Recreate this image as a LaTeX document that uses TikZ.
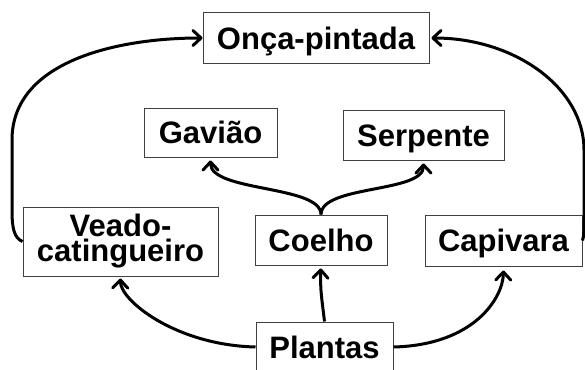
\documentclass[tikz,border=0pt]{standalone}
\usepackage{fontspec}
\setmainfont{Liberation Sans}
\usetikzlibrary{arrows.meta}
\begin{document}
\begin{tikzpicture}[x=1pt,y=-1pt,
  box/.style={draw=black!75, line width=1pt, inner sep=0pt, align=center,
    font=\fontsize{31}{25}\selectfont\bfseries},
  oneline/.style={text height=22.5pt, text depth=0pt},
  link/.style={line width=3pt, line join=round,
    -{Straight Barb[length=8pt,width=15pt,round]}}]
\useasboundingbox (0,0) rectangle (585,369);
\fill[white] (0,0) rectangle (585,369);
\node[box, oneline, minimum width=226pt, minimum height=50pt] (onca) at (316,38) {Onça-pintada};
\node[box, oneline, minimum width=133pt, minimum height=49pt] (gaviao) at (210.5,132.5) {Gavião};
\node[box, oneline, minimum width=161pt, minimum height=50pt] (serpente) at (423.5,135) {Serpente};
\node[box, minimum width=195pt, minimum height=69pt] (veado) at (120.5,241.5) {Veado-\\catingueiro};
\node[box, oneline, minimum width=132pt, minimum height=50pt] (coelho) at (321,240) {Coelho};
\node[box, oneline, minimum width=157pt, minimum height=51pt] (capivara) at (503.5,240.5) {Capivara};
\node[box, oneline, minimum width=137pt, minimum height=50pt] (plantas) at (324.5,347) {Plantas};
% Plantas -> herbivores
\draw[link, shorten >=2pt] (plantas.west) .. controls (175,345) and (120,300) .. (veado.south);
\draw[link, shorten >=4pt] (plantas.east) .. controls (474,345) and (503,298) .. (capivara.south);
\draw[link, shorten >=3pt] (plantas.north) .. controls (322,300) and (320,290) .. (coelho.south);
% Coelho -> Gaviao, Serpente
\draw[link, shorten >=3pt] (coelho.north) .. controls (321,185) and (210.5,192) .. (gaviao.south);
\draw[link, shorten >=3pt] (coelho.north) .. controls (321,185) and (423.5,193) .. (serpente.south);
% herbivores -> Onca
\draw[link] (veado.west) .. controls (14,238) and (12,228) .. (12,210) -- (12,140)
  .. controls (12,60) and (120,38) .. (onca.west);
\draw[link, shorten >=2pt] (capivara.east) .. controls (584,237) and (584,228) .. (584,210) -- (584,150)
  .. controls (584,88) and (515,38) .. (onca.east);
\end{tikzpicture}
\end{document}
